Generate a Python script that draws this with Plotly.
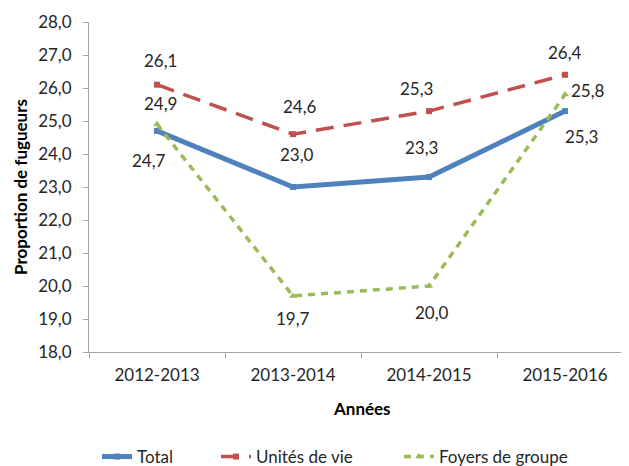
import plotly.graph_objects as go

annees = ["2012-2013", "2013-2014", "2014-2015", "2015-2016"]
total = [24.7, 23.0, 23.3, 25.3]
unites = [26.1, 24.6, 25.3, 26.4]
foyers = [24.9, 19.7, 20.0, 25.8]
y_ticks = [18, 19, 20, 21, 22, 23, 24, 25, 26, 27, 28]
y_tick_labels = ["18,0", "19,0", "20,0", "21,0", "22,0", "23,0", "24,0", "25,0", "26,0", "27,0", "28,0"]

def fr(v):
    return f"{v:.1f}".replace(".", ",")

FONT = "Lato"
TXT = "#262626"
FS = 17
W, H = 621, 458  # page body has an 8px margin

fig = go.Figure()
fig.add_trace(go.Scatter(x=annees, y=total, name="Total", mode="lines+markers",
                         line=dict(color="#4F81BD", width=5),
                         marker=dict(symbol="square", size=6, color="#4F81BD"),
                         legend="legend"))
fig.add_trace(go.Scatter(x=annees, y=unites, name="Unités de vie", mode="lines+markers",
                         line=dict(color="#C0504D", width=3.5, dash="18px,10px"),
                         marker=dict(symbol="square", size=6, color="#C0504D"),
                         legend="legend2"))
fig.add_trace(go.Scatter(x=annees, y=foyers, name="Foyers de groupe", mode="lines+markers",
                         line=dict(color="#9BBB59", width=3.5, dash="7px,6px"),
                         marker=dict(symbol="triangle-up", size=7, color="#9BBB59"),
                         legend="legend3"))

# label offsets (pixels) per series
off_total = [(-8, -30), (4, 33), (-8, 30), (16, -25)]
off_unites = [(3, 24), (7, 28), (-13, 23), (0, 22)]
off_foyers = [(3, 21), (0, -23), (3, -26), (23, 4)]

annotations = []
for vals, offs in ((total, off_total), (unites, off_unites), (foyers, off_foyers)):
    for cat, v, (dx, dy) in zip(annees, vals, offs):
        annotations.append(dict(x=cat, y=v, xref="x", yref="y", text=fr(v), showarrow=False,
                                xshift=dx, yshift=dy, font=dict(family=FONT, size=FS, color=TXT)))

annotations.append(dict(text="<b>Proportion de fugueurs</b>", xref="paper", yref="paper",
                        x=-69 / 540, y=0.5, textangle=-90, showarrow=False,
                        xanchor="center", yanchor="middle",
                        font=dict(family=FONT, size=17, color="#000")))
annotations.append(dict(text="<b>Années</b>", xref="paper", yref="paper",
                        x=(362 - 89) / 540, y=-(408 - 352) / 330, showarrow=False,
                        xanchor="center", yanchor="middle",
                        font=dict(family=FONT, size=17, color="#000")))

def leg(xpx):
    return dict(orientation="h", xref="container", yref="container",
                x=xpx / W, xanchor="left", y=1 - 449 / H, yanchor="middle",
                font=dict(family=FONT, size=FS, color=TXT), bgcolor="rgba(0,0,0,0)")

fig.update_layout(
    width=W, height=H,
    margin=dict(l=81, r=0, t=14, b=114, autoexpand=False),
    paper_bgcolor="white", plot_bgcolor="white",
    showlegend=True,
    legend=leg(89), legend2=leg(208), legend3=leg(391),
    annotations=annotations,
    font=dict(family=FONT, color=TXT),
)
fig.update_xaxes(range=[-0.5, 3.47], showgrid=False, showline=True, linecolor="#A6A6A6",
                 linewidth=1, ticks="outside", tickson="boundaries", ticklen=5,
                 tickcolor="#A6A6A6", tickfont=dict(family=FONT, size=FS, color=TXT),
                 ticklabelstandoff=8, zeroline=False, automargin=False)
fig.update_yaxes(range=[18, 28], tickvals=y_ticks, ticktext=y_tick_labels, showgrid=False,
                 showline=True, linecolor="#A6A6A6", linewidth=1, ticks="outside",
                 ticklen=5, tickcolor="#A6A6A6", ticklabelstandoff=8,
                 tickfont=dict(family=FONT, size=FS, color=TXT), zeroline=False,
                 automargin=False)

fig.write_html("out.html")
